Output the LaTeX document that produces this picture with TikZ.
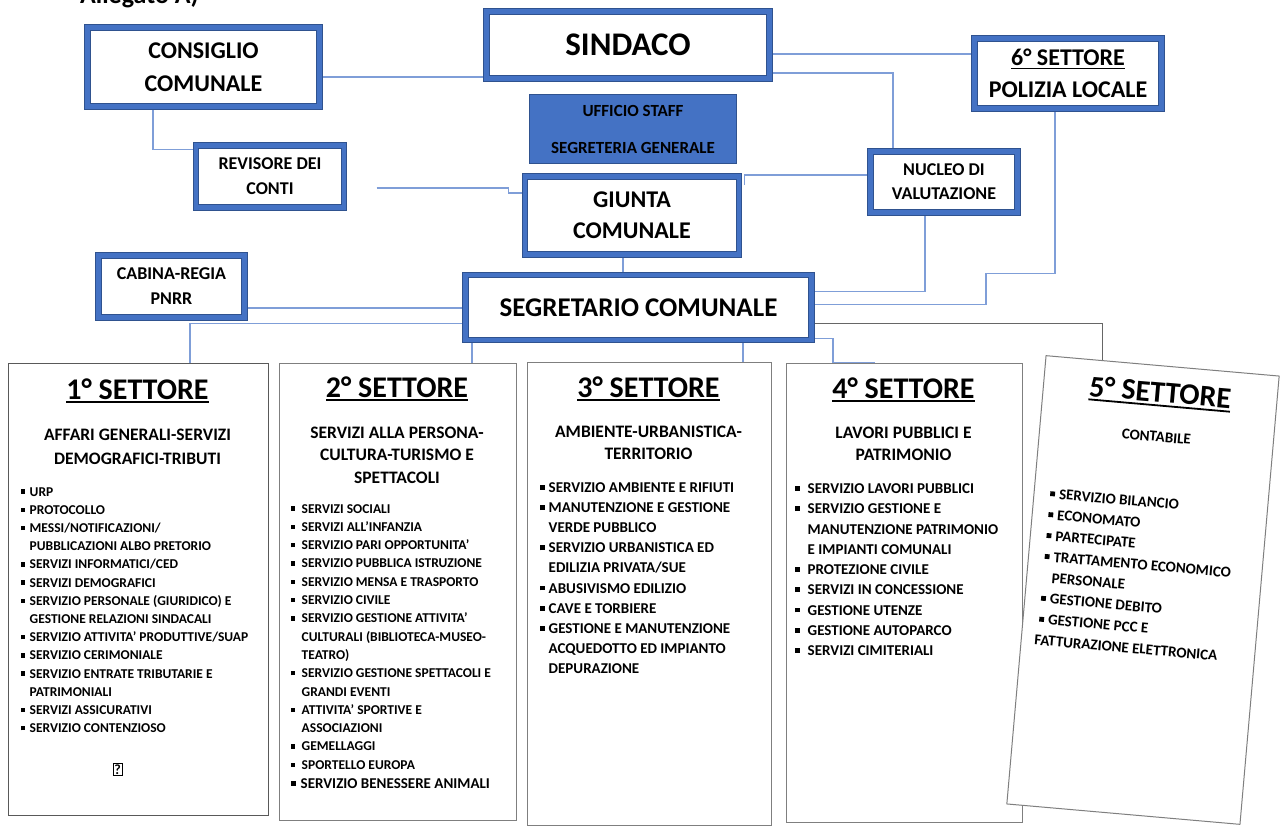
\documentclass[tikz,border=0pt]{standalone}
\usepackage{fontspec}
\setmainfont{Carlito}
\usetikzlibrary{positioning}

\definecolor{bluente}{HTML}{4472C4}
\definecolor{bordo}{HTML}{2F528F}
\definecolor{lineablu}{HTML}{7F9ED8}
\definecolor{grigio}{HTML}{7F7F7F}

\newcommand{\sottolinea}[1]{\setbox0\hbox{#1}\rlap{\rule[-0.14em]{\wd0}{0.06em}}\box0}
\newcommand{\punto}{\rule[0.17em]{0.32em}{0.32em}}

\pgfdeclarelayer{sfondo}
\pgfsetlayers{sfondo,main}

\begin{document}
\begin{tikzpicture}[x=1pt,y=-1pt,
  ente/.style={draw=bordo, double=bluente, double distance=4.6pt, line width=1pt, fill=white, align=center, inner sep=0pt},
  staff/.style={draw=bordo, fill=bluente, line width=1pt, align=center, inner sep=0pt},
  settore/.style={draw=grigio, line width=1pt, fill=white, inner sep=0pt},
  titolo/.style={anchor=base, inner sep=0pt, font=\bfseries\fontsize{30}{30}\selectfont},
  sottotitolo/.style={anchor=base, inner sep=0pt, font=\bfseries\fontsize{17.5}{23}\selectfont},
  voce/.style={anchor=base west, inner sep=0pt, font=\bfseries\fontsize{13.5}{16}\selectfont},
  filo/.style={draw=lineablu, line width=1.1pt},
  filogrigio/.style={draw=grigio!80!black, line width=1pt}]
\useasboundingbox (0,0) rectangle (1283,830);
\clip (0,0) rectangle (1283,830);

\node[anchor=base west, inner sep=0pt, font=\bfseries\fontsize{26}{26}\selectfont] (allegato) at (80,3) {Allegato A)};

% organi di vertice
\node[ente, minimum width=232pt, minimum height=79pt, font=\bfseries\fontsize{24}{33}\selectfont] (cons) at (203.5,67) {CONSIGLIO\\COMUNALE};
\node[ente, minimum width=283pt, minimum height=67pt, font=\bfseries\fontsize{33}{33}\selectfont] (sind) at (628,45) {SINDACO};
\node[staff, minimum width=207pt, minimum height=69pt, font=\bfseries\fontsize{17}{37}\selectfont] (uff) at (633,129) {UFFICIO STAFF\\SEGRETERIA GENERALE};
\node[ente, minimum width=214pt, minimum height=78pt, font=\bfseries\fontsize{24}{31}\selectfont] (giun) at (632,215.5) {GIUNTA\\COMUNALE};
\node[ente, minimum width=148pt, minimum height=62pt, font=\bfseries\fontsize{18}{25}\selectfont] (rev) at (270,176.5) {REVISORE DEI\\CONTI};
\node[ente, minimum width=187pt, minimum height=70pt, font=\bfseries\fontsize{24}{32}\selectfont] (pol) at (1068,73.5) {\sottolinea{6° SETTORE}\\POLIZIA LOCALE};
\node[ente, minimum width=147pt, minimum height=61pt, font=\bfseries\fontsize{18}{24}\selectfont] (nuc) at (944,182) {NUCLEO DI\\VALUTAZIONE};
\node[ente, minimum width=146pt, minimum height=62pt, font=\bfseries\fontsize{18}{25}\selectfont] (cab) at (171.5,286.5) {CABINA-REGIA\\PNRR};
\node[ente, minimum width=346pt, minimum height=65pt, font=\bfseries\fontsize{27}{27}\selectfont] (seg) at (638.5,307.5) {SEGRETARIO COMUNALE};

% 1° settore
\node[settore, draw=grigio!70!black, minimum width=260pt, minimum height=452pt] (s1) at (138,589) {};
\begin{scope}[shift={(s1.north west)}]
\node[titolo] (t1) at (130,36.5) {\sottolinea{1° SETTORE}};
\foreach \riga [count=\i from 0] in {AFFARI GENERALI-SERVIZI, DEMOGRAFICI-TRIBUTI}
  \node[sottotitolo] (st1\i) at (130,77.5+24*\i) {\riga};
\foreach \tipo/\testo [count=\i from 0] in {1/URP, 1/PROTOCOLLO, 1/MESSI\slash NOTIFICAZIONI\slash, 0/PUBBLICAZIONI ALBO PRETORIO,
    1/SERVIZI INFORMATICI\slash CED, 1/SERVIZI DEMOGRAFICI, 1/SERVIZIO PERSONALE (GIURIDICO) E, 0/GESTIONE RELAZIONI SINDACALI,
    1/SERVIZIO ATTIVITA’ PRODUTTIVE\slash SUAP, 1/SERVIZIO CERIMONIALE, 1/SERVIZIO ENTRATE TRIBUTARIE E, 0/PATRIMONIALI,
    1/SERVIZI ASSICURATIVI, 1/SERVIZIO CONTENZIOSO}
  \node[voce] (v1\i) at (13,133.5+18.2*\i) {\makebox[9pt][l]{\ifnum\tipo=1 \punto\fi}\testo};
\node[inner sep=0pt, font=\bfseries\fontsize{14}{14}\selectfont] (ignoto) at (110,407) {\setlength{\fboxsep}{1pt}\fbox{?}};
\end{scope}

% 2° settore
\node[settore, minimum width=237pt, minimum height=457pt] (s2) at (397.5,591.5) {};
\begin{scope}[shift={(s2.north west)}]
\node[titolo] (t2) at (118.5,34.5) {\sottolinea{2° SETTORE}};
\foreach \riga [count=\i from 0] in {SERVIZI ALLA PERSONA-, CULTURA-TURISMO E, SPETTACOLI}
  \node[sottotitolo] (st2\i) at (118.5,75.5+22.5*\i) {\riga};
\foreach \tipo/\testo [count=\i from 0] in {1/SERVIZI SOCIALI, 1/SERVIZI ALL’INFANZIA, 1/SERVIZIO PARI OPPORTUNITA’,
    1/SERVIZIO PUBBLICA ISTRUZIONE, 1/SERVIZIO MENSA E TRASPORTO, 1/SERVIZIO CIVILE, 1/SERVIZIO GESTIONE ATTIVITA’,
    0/CULTURALI (BIBLIOTECA-MUSEO-, 0/TEATRO), 1/SERVIZIO GESTIONE SPETTACOLI E, 0/GRANDI EVENTI,
    1/ATTIVITA’ SPORTIVE E, 0/ASSOCIAZIONI, 1/GEMELLAGGI, 1/SPORTELLO EUROPA}
  \node[voce] (v2\i) at (12,150.5+18.3*\i) {\makebox[11pt][l]{\ifnum\tipo=1 \punto\fi}\testo};
\node[voce, font=\bfseries\fontsize{15}{16}\selectfont] (v2ultima) at (12,426) {\makebox[10pt][l]{\punto}SERVIZIO BENESSERE ANIMALI};
\end{scope}

% 3° settore
\node[settore, minimum width=244pt, minimum height=463pt] (s3) at (649,593.5) {};
\begin{scope}[shift={(s3.north west)}]
\node[titolo] (t3) at (122,35.5) {\sottolinea{3° SETTORE}};
\foreach \riga [count=\i from 0] in {AMBIENTE-URBANISTICA-, TERRITORIO}
  \node[sottotitolo] (st3\i) at (122,75.5+22*\i) {\riga};
\foreach \tipo/\testo [count=\i from 0] in {1/SERVIZIO AMBIENTE E RIFIUTI, 1/MANUTENZIONE E GESTIONE, 0/VERDE PUBBLICO,
    1/SERVIZIO URBANISTICA ED, 0/EDILIZIA PRIVATA\slash SUE, 1/ABUSIVISMO EDILIZIO, 1/CAVE E TORBIERE,
    1/GESTIONE E MANUTENZIONE, 0/ACQUEDOTTO ED IMPIANTO, 0/DEPURAZIONE}
  \node[voce, font=\bfseries\fontsize{15}{16}\selectfont] (v3\i) at (13,131+20.1*\i) {\makebox[9pt][l]{\ifnum\tipo=1 \punto\fi}\testo};
\end{scope}

% 4° settore
\node[settore, minimum width=236pt, minimum height=459pt] (s4) at (904,592.5) {};
\begin{scope}[shift={(s4.north west)}]
\node[titolo] (t4) at (118,35.5) {\sottolinea{4° SETTORE}};
\foreach \riga [count=\i from 0] in {LAVORI PUBBLICI E, PATRIMONIO}
  \node[sottotitolo] (st4\i) at (118,75.5+22*\i) {\riga};
\foreach \tipo/\testo [count=\i from 0] in {1/SERVIZIO LAVORI PUBBLICI, 1/SERVIZIO GESTIONE E, 0/MANUTENZIONE PATRIMONIO,
    0/E IMPIANTI COMUNALI, 1/PROTEZIONE CIVILE, 1/SERVIZI IN CONCESSIONE, 1/GESTIONE UTENZE,
    1/GESTIONE AUTOPARCO, 1/SERVIZI CIMITERIALI}
  \node[voce, font=\bfseries\fontsize{15}{16}\selectfont] (v4\i) at (9,131+20.25*\i) {\makebox[13pt][l]{\ifnum\tipo=1 \punto\fi}\testo};
\end{scope}

% 5° settore (ruotato)
\node[settore, rotate=-5, minimum width=234pt, minimum height=450pt] (s5) at (1143,590) {};
\begin{scope}[shift={(s5.center)}, rotate=-5, transform shape]
\node[titolo] (t5) at (0,-188.5) {\sottolinea{5° SETTORE}};
\node[sottotitolo, font=\bfseries\fontsize{15}{16}\selectfont] (st50) at (0,-149) {CONTABILE};
\foreach \tipo/\testo [count=\i from 0] in {1/SERVIZIO BILANCIO, 1/ECONOMATO, 1/PARTECIPATE, 1/TRATTAMENTO ECONOMICO,
    0/PERSONALE, 1/GESTIONE DEBITO, 1/GESTIONE PCC E}
  \node[voce, font=\bfseries\fontsize{15}{16}\selectfont] (v5\i) at (-101,-83+21*\i) {\makebox[9pt][l]{\ifnum\tipo=1 \punto\fi}\testo};
\node[voce, font=\bfseries\fontsize{15}{16}\selectfont] (v5ultima) at (-104,64) {FATTURAZIONE ELETTRONICA};
\end{scope}

% collegamenti
\begin{pgfonlayer}{sfondo}
\draw[filo] ([yshift=-10pt]cons.east) -- ([yshift=-10pt]cons.east -| sind.west);
\draw[filo] ([xshift=66pt]cons.south west) |- ([yshift=-4.5pt]rev.north west);
\draw[filo] ([xshift=32pt,yshift=-11.5pt]rev.east) -- ++(132pt,0pt) |- ([yshift=22.5pt]giun.west);
\draw[filo] ([yshift=-9pt]sind.east) -- ([yshift=-9pt]sind.east -| pol.west);
\draw[filo] ([yshift=-28pt]sind.east) -| ([xshift=-51pt]nuc.north);
\draw[filo] ([xshift=5pt,yshift=-9pt]giun.north east) |- ([yshift=7pt]nuc.west);
\draw[filo] ([xshift=-19pt]nuc.south) |- ([yshift=16pt]seg.east);
\draw[filo] ([xshift=-13pt]pol.south) |- ([xshift=174pt,yshift=34pt]seg.east) |- ([yshift=3pt]seg.east);
\draw[filo] ([xshift=-9pt]giun.south) -- ([xshift=-9pt]giun.south |- seg.north);
\draw[filo] ([yshift=-21.5pt]cab.east) -- ([yshift=-21.5pt]cab.east -| seg.west);
\draw[filo] ([yshift=-16pt]seg.west) -| ([xshift=52pt]s1.north);
\draw[filo] ([xshift=7pt]seg.south west) -- ([xshift=7pt]seg.south west |- s2.north);
\draw[filo] ([xshift=104.5pt]seg.south) -- ([xshift=104.5pt]seg.south |- s3.north);
\draw[filo] ([yshift=2pt]seg.south east) -- ++(21pt,0pt) |- ([xshift=-29pt]s4.north);
\draw[filogrigio] ([yshift=-16pt]seg.east) -| ([xshift=-60pt]s5.north);
\end{pgfonlayer}
\end{tikzpicture}
\end{document}
